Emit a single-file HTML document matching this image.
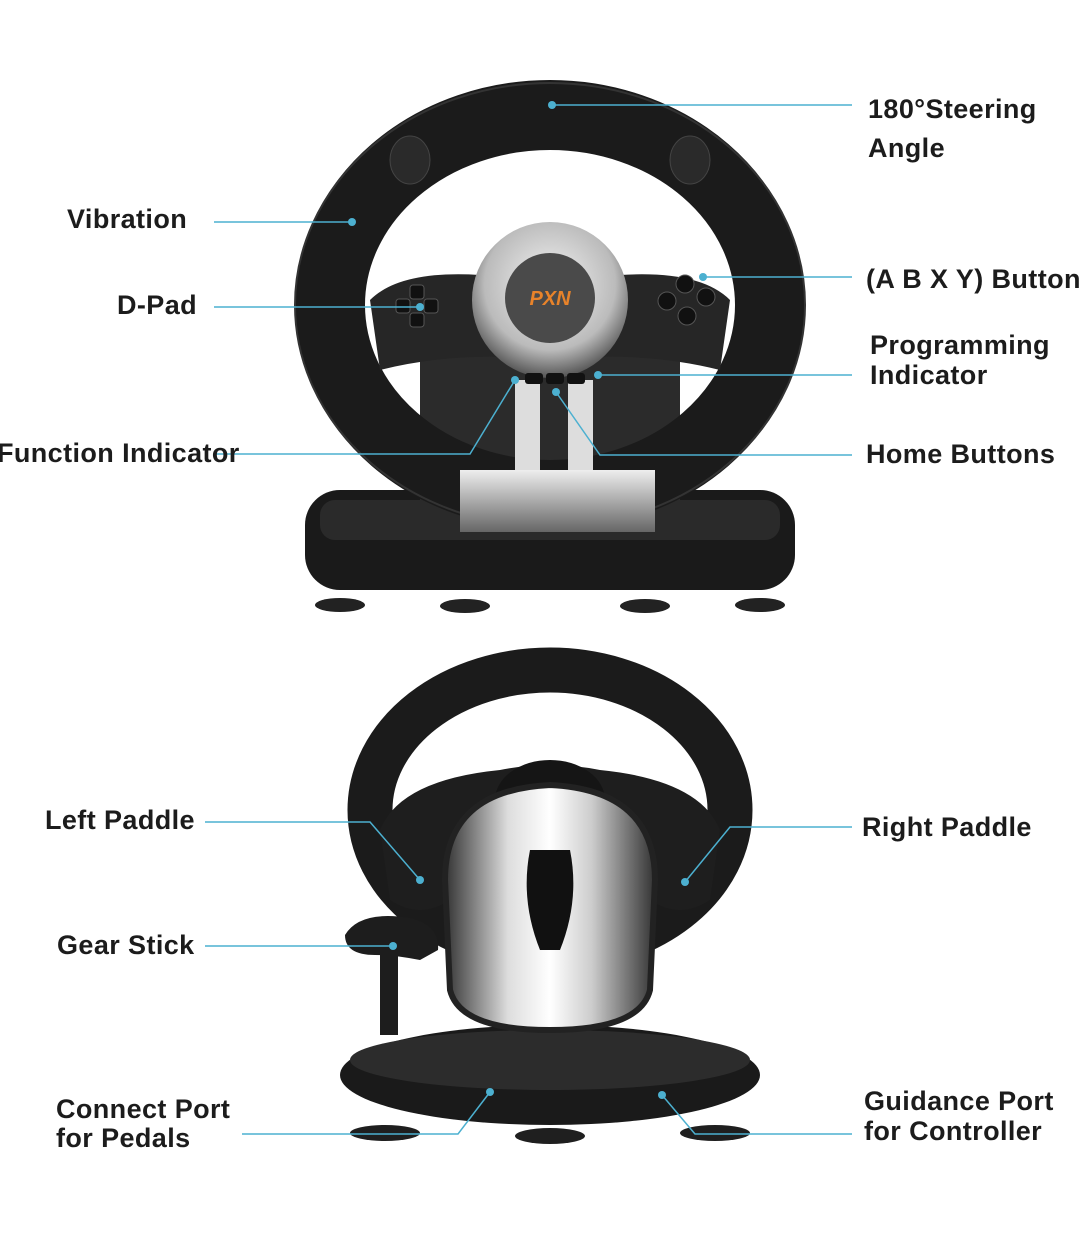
<!DOCTYPE html>
<html><head><style>
body{margin:0;background:#fff;width:1080px;height:1244px;overflow:hidden;font-family:"Liberation Sans",sans-serif}
svg{position:absolute;left:0;top:0}
.t{font-family:"Liberation Sans",sans-serif;font-weight:bold;font-size:27px;letter-spacing:0.4px;fill:#1c1c1c}
</style></head><body>
<svg width="1080" height="1244" viewBox="0 0 1080 1244">
<defs>
<linearGradient id="sil" x1="0" x2="0" y1="0" y2="1"><stop offset="0" stop-color="#eee"/><stop offset=".5" stop-color="#aaa"/><stop offset="1" stop-color="#666"/></linearGradient>
<radialGradient id="hub" cx=".5" cy=".4" r=".6"><stop offset="0" stop-color="#f4f4f4"/><stop offset=".7" stop-color="#bbb"/><stop offset="1" stop-color="#555"/></radialGradient>
<linearGradient id="sil2" x1="0" x2="1"><stop offset="0" stop-color="#333"/><stop offset=".3" stop-color="#ddd"/><stop offset=".5" stop-color="#fff"/><stop offset=".7" stop-color="#ccc"/><stop offset="1" stop-color="#333"/></linearGradient>
</defs>
<rect x="305" y="490" width="490" height="100" rx="35" fill="#1a1a1a"/>
<rect x="320" y="500" width="460" height="40" rx="15" fill="#2a2a2a"/>
<g fill="#222"><ellipse cx="340" cy="605" rx="25" ry="7"/><ellipse cx="465" cy="606" rx="25" ry="7"/><ellipse cx="645" cy="606" rx="25" ry="7"/><ellipse cx="760" cy="605" rx="25" ry="7"/></g>
<rect x="420" y="350" width="260" height="150" fill="#2b2b2b"/>
<ellipse cx="550" cy="305" rx="220" ry="190" fill="none" stroke="#1b1b1b" stroke-width="70"/>
<ellipse cx="550" cy="305" rx="255" ry="222" fill="none" stroke="#333" stroke-width="2"/>
<path d="M370 300 Q400 270 480 275 L620 275 Q700 270 730 300 L720 370 Q640 350 550 360 Q460 350 380 370 Z" fill="#262626"/>
<rect x="515" y="380" width="25" height="100" fill="#ddd"/><rect x="568" y="380" width="25" height="100" fill="#ddd"/>
<rect x="460" y="470" width="195" height="62" fill="url(#sil)"/>
<circle cx="550" cy="300" r="78" fill="url(#hub)"/>
<circle cx="550" cy="298" r="45" fill="#4a4a4a"/>
<text x="550" y="305" text-anchor="middle" font-family="Liberation Sans" font-weight="bold" font-style="italic" font-size="20" fill="#e8832a">PXN</text>
<g fill="#111"><rect x="525" y="373" width="18" height="11" rx="3"/><rect x="546" y="373" width="18" height="11" rx="3"/><rect x="567" y="373" width="18" height="11" rx="3"/></g>
<g fill="#111" stroke="#555"><circle cx="685" cy="284" r="9"/><circle cx="706" cy="297" r="9"/><circle cx="667" cy="301" r="9"/><circle cx="687" cy="316" r="9"/></g>
<g fill="#111" stroke="#555"><rect x="410" y="285" width="14" height="14" rx="3"/><rect x="410" y="313" width="14" height="14" rx="3"/><rect x="396" y="299" width="14" height="14" rx="3"/><rect x="424" y="299" width="14" height="14" rx="3"/></g>
<ellipse cx="410" cy="160" rx="20" ry="24" fill="#2a2a2a" stroke="#444"/><ellipse cx="690" cy="160" rx="20" ry="24" fill="#2a2a2a" stroke="#444"/>
<ellipse cx="550" cy="1075" rx="210" ry="50" fill="#1a1a1a"/>
<ellipse cx="550" cy="1060" rx="200" ry="30" fill="#2c2c2c"/>
<g fill="#1f1f1f"><ellipse cx="385" cy="1133" rx="35" ry="8"/><ellipse cx="550" cy="1136" rx="35" ry="8"/><ellipse cx="715" cy="1133" rx="35" ry="8"/></g>
<ellipse cx="550" cy="810" rx="180" ry="140" fill="none" stroke="#1b1b1b" stroke-width="45"/>
<path d="M380 830 Q400 780 500 770 Q550 760 600 770 Q700 780 720 830 L710 900 Q680 920 650 900 L450 900 Q420 920 390 900 Z" fill="#1e1e1e"/>
<ellipse cx="550" cy="800" rx="55" ry="40" fill="#151515"/>
<path d="M445 880 Q445 790 550 785 Q655 790 655 880 L650 990 Q640 1030 550 1030 Q460 1030 450 990 Z" fill="url(#sil2)" stroke="#222" stroke-width="6"/>
<path d="M530 850 Q520 900 540 950 L560 950 Q580 900 570 850 Z" fill="#111"/>
<path d="M345 935 Q360 910 410 918 Q440 925 438 950 L420 960 Q395 955 375 955 Q345 955 345 935 Z" fill="#1d1d1d"/>
<rect x="380" y="955" width="18" height="80" fill="#1d1d1d"/>
<g stroke="#4cb0d0" stroke-width="1.5" fill="none">
<path d="M552 105 H852"/><path d="M214 222 H352"/><path d="M214 307 H420"/>
<path d="M703 277 H852"/><path d="M598 375 H852"/><path d="M215 454 H470 L515 380"/>
<path d="M556 392 L600 455 H852"/><path d="M205 822 H370 L420 880"/><path d="M205 946 H393"/>
<path d="M242 1134 H458 L490 1092"/><path d="M852 827 H730 L685 882"/><path d="M852 1134 H695 L662 1095"/>
</g>
<g fill="#4cb0d0"><circle cx="552" cy="105" r="4"/><circle cx="352" cy="222" r="4"/><circle cx="420" cy="307" r="4"/><circle cx="703" cy="277" r="4"/><circle cx="598" cy="375" r="4"/><circle cx="515" cy="380" r="4"/><circle cx="556" cy="392" r="4"/><circle cx="420" cy="880" r="4"/><circle cx="393" cy="946" r="4"/><circle cx="490" cy="1092" r="4"/><circle cx="685" cy="882" r="4"/><circle cx="662" cy="1095" r="4"/></g>
<text class="t" x="868" y="118">180°Steering</text><text class="t" x="868" y="157">Angle</text>
<text class="t" x="67" y="228">Vibration</text>
<text class="t" x="117" y="314">D-Pad</text>
<text class="t" x="866" y="288">(A B X Y) Buttons</text>
<text class="t" x="870" y="354">Programming</text><text class="t" x="870" y="384">Indicator</text>
<text class="t" x="-3" y="462">Function Indicator</text>
<text class="t" x="866" y="463">Home Buttons</text>
<text class="t" x="45" y="829">Left Paddle</text>
<text class="t" x="862" y="836">Right Paddle</text>
<text class="t" x="57" y="954">Gear Stick</text>
<text class="t" x="56" y="1118">Connect Port</text><text class="t" x="56" y="1147">for Pedals</text>
<text class="t" x="864" y="1110">Guidance Port</text><text class="t" x="864" y="1140">for Controller</text>
</svg>
</body></html>
